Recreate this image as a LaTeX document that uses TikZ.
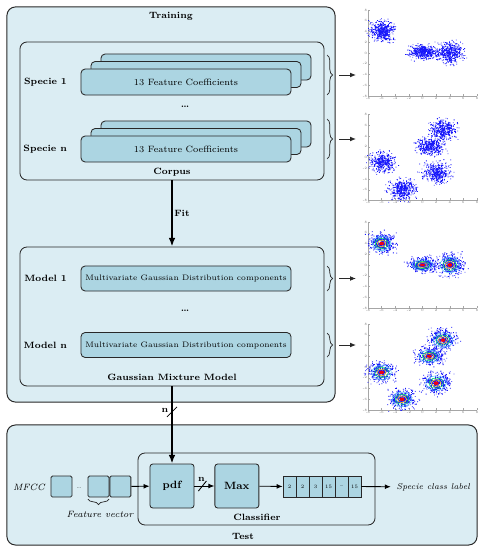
\documentclass[tikz,border=0pt]{standalone}
\usepackage{amsmath}
\usetikzlibrary{positioning, arrows.meta, decorations.pathreplacing, calc}

\definecolor{paneblue}{RGB}{219,237,243}
\definecolor{cellblue}{RGB}{172,213,226}
\definecolor{edgegray}{RGB}{40,40,40}
\definecolor{dotblue}{RGB}{25,25,250}

\newcommand{\basesize}{\fontsize{6.5}{7.5}\selectfont}
\newcommand{\ticksize}{\fontsize{2.4}{2.8}\selectfont}

% one gaussian cloud of scatter points: cx, cy, sx, sy, count
\newcommand{\dotcloud}[5]{%
  \fill[dotblue] \foreach \i in {1,...,#5}{
    ({#1+#3*(rand+rand+rand)},{#2+#4*(rand+rand+rand)}) rectangle +(0.6pt,0.6pt)
  };}
% level lines drawn over a fitted component
\newcommand{\levels}[4]{%
  \draw[cyan!70, line width=0.35pt] (#1,#2) ellipse ({1.5*#3} and {1.5*#4});
  \draw[green!70!cyan, line width=0.35pt] (#1,#2) ellipse ({1.05*#3} and {1.05*#4});
  \draw[yellow!90!orange, line width=0.4pt] (#1,#2) ellipse ({0.7*#3} and {0.7*#4});
  \fill[red!75!purple] (#1,#2) ellipse ({0.38*#3} and {0.38*#4});}
% axes of one scatter plot
\newcommand{\plotframe}{%
  \draw[gray!70, line width=0.3pt] (-8,8) -- (-8,-8) -- (8,-8);
  \foreach \t in {-8,-6,...,8}{
    \draw[gray!70, line width=0.3pt] (\t,-8) -- (\t,-7.6);
    \draw[gray!70, line width=0.3pt] (-8,\t) -- (-7.7,\t);
    \node[ticklabel, below] at (\t,-8) {\t};
    \node[ticklabel, left] at (-8,\t) {\t};
  }}

\begin{document}
\begin{tikzpicture}[
  x=0.025cm, y=-0.025cm,
  font=\basesize,
  stage/.style={rectangle, draw=edgegray, rounded corners=6pt, fill=paneblue, line width=0.7pt, inner sep=0pt},
  panel/.style={rectangle, draw=edgegray, rounded corners=5pt, fill=paneblue, line width=0.6pt, inner sep=0pt},
  feat/.style={rectangle, draw=edgegray, rounded corners=3pt, fill=cellblue, minimum width=5.25cm, minimum height=0.65cm, line width=0.6pt, font=\basesize},
  comp/.style={rectangle, draw=edgegray, rounded corners=3pt, fill=cellblue, minimum width=5.25cm, minimum height=0.625cm, line width=0.6pt, inner xsep=1pt, font=\fontsize{5.6}{6.5}\selectfont},
  heading/.style={font=\basesize\bfseries, inner sep=1pt},
  note/.style={font=\basesize\itshape, inner sep=1pt},
  block/.style={rectangle, draw=edgegray, rounded corners=2pt, fill=cellblue, minimum size=1.1cm, line width=0.6pt, font=\fontsize{7.5}{8.5}\selectfont\bfseries},
  sq/.style={rectangle, draw=edgegray, rounded corners=1pt, fill=cellblue, minimum size=0.525cm, line width=0.6pt, inner sep=0pt},
  cell/.style={rectangle, draw=edgegray, fill=cellblue, minimum width=0.325cm, minimum height=0.525cm, line width=0.5pt, inner sep=0pt, font=\fontsize{3.6}{4}\selectfont},
  ticklabel/.style={font=\ticksize, inner sep=0.6pt, text=gray!80!black},
  brace/.style={decorate, decoration={brace, amplitude=4pt}, line width=0.5pt, edgegray},
  arr/.style={-{Latex[length=1.5mm, width=1.2mm]}, line width=0.6pt},
  bigarr/.style={-{Latex[length=2.2mm, width=1.7mm]}, line width=1.3pt}
]
  \useasboundingbox (0,0) rectangle (484,550);
  \pgfmathsetseed{11}

  % training
  \node[stage, minimum width=8.2cm, minimum height=9.875cm] (training) at (171,204.5) {};
  \node[heading] (traininghead) at (171,16) {Training};

  \node[panel, minimum width=7.6cm, minimum height=3.45cm] (corpus) at (172,111) {};
  \node[heading] (corpushead) at (172,172) {Corpus};
  \foreach \s/\yy in {1/82,n/149}{
    \node[feat] (sp\s-c) at (206,\yy-15) {};
    \node[feat] (sp\s-b) at (196,\yy-7.5) {};
    \node[feat] (sp\s-a) at (186,\yy) {13 Feature Coefficients};
    \node[heading, left=0.3cm of sp\s-a] (sp\s-lab) {Specie \s};
  }
  \node[heading] (corpusdots) at (185,107) {\ldots};

  \node[panel, minimum width=7.6cm, minimum height=3.475cm] (gmm) at (172,316.5) {};
  \node[heading] (gmmhead) at (172,377) {Gaussian Mixture Model};
  \foreach \s/\yy in {1/278.5,n/345}{
    \node[comp] (model\s) at (186,\yy) {Multivariate Gaussian Distribution components};
    \node[heading, left=0.3cm of model\s] (model\s-lab) {Model \s};
  }
  \node[heading] (gmmdots) at (185,311) {\ldots};

  \draw[bigarr] (corpus) -- node[heading, right, pos=0.5] (fitlab) {Fit} (gmm);

  % braces towards the plots
  \foreach \k/\ya/\yb in {1/55/95, 2/119/159, 3/266/291, 4/333/357}{
    \draw[brace] (327,\ya) -- (327,\yb);
    \coordinate (tip\k) at (339,{(\ya+\yb)/2});
    \coordinate (plot\k-in) at (356,{(\ya+\yb)/2});
    \draw[arr, edgegray] (tip\k) -- (plot\k-in);
  }

  % test
  \node[stage, minimum width=11.75cm, minimum height=3cm] (test) at (242,485) {};
  \node[heading] (testhead) at (243,536) {Test};
  \node[panel, minimum width=5.925cm, minimum height=1.8cm] (classifier) at (256.5,489) {};
  \node[heading] (classifierhead) at (257,517) {Classifier};

  \node[block] (pdf) at (172,486) {pdf};
  \node[block, right=0.5cm of pdf] (max) {Max};

  \node[note] (mfcc) at (29,487) {MFCC};
  \node[sq] (fv1) at (61.5,486.5) {};
  \node[sq] (fv2) at (98.5,486.5) {};
  \node[sq, right=0pt of fv2] (fv3) {};
  \node[font=\fontsize{4}{5}\selectfont] (fvdots) at (79,488) {\ldots};
  \draw[brace] (109,499) -- (88,499);
  \node[note] (fvlab) at (100,514) {Feature vector};

  \foreach \v [count=\k] in {2,2,3,15,\ldots,15}
    \node[cell] (cell\k) at ({289.5+13*(\k-1)},486.5) {\v};
  \node[note, anchor=west, font=\fontsize{6}{7}\selectfont\itshape] (classlabel) at (395,487) {Specie class label};

  \draw[bigarr] (gmm) -- coordinate[pos=0.33] (nslash) (pdf);
  \draw[line width=0.6pt] ($(nslash)+(-5,5)$) -- ($(nslash)+(5,-5)$);
  \node[heading] (nlab1) at ($(nslash)+(-7,-1)$) {n};

  \draw[arr] (fv3) -- (pdf);
  \draw[arr] (pdf) -- coordinate[pos=0.4] (nmark) (max);
  \draw[line width=0.6pt] ($(nmark)+(-4,5)$) -- ($(nmark)+(4,-5)$);
  \node[heading] (nlab2) at ($(nmark)+(-1,-7)$) {n};
  \draw[arr] (max) -- (cell1);
  \draw[arr, shorten >=3pt] (cell6) -- (classlabel);

  % scatter plots
  \begin{scope}[shift={(422.5,53)}, x=0.1703cm, y=0.1344cm]
    \plotframe
    \dotcloud{-6}{4}{0.9}{0.9}{420}
    \dotcloud{0}{0}{1.0}{0.65}{420}
    \dotcloud{4}{0}{0.95}{0.95}{420}
  \end{scope}
  \begin{scope}[shift={(422.5,157.5)}, x=0.1703cm, y=0.1344cm]
    \plotframe
    \dotcloud{3}{5}{0.95}{0.9}{380}
    \dotcloud{1}{2}{1.0}{0.75}{380}
    \dotcloud{-6}{-1}{0.95}{0.9}{380}
    \dotcloud{-3}{-6}{0.95}{0.9}{380}
    \dotcloud{2}{-3}{1.0}{0.9}{380}
  \end{scope}
  \begin{scope}[shift={(422.5,265)}, x=0.1703cm, y=0.1344cm]
    \plotframe
    \dotcloud{-6}{4}{0.9}{0.9}{420}
    \dotcloud{0}{0}{1.0}{0.65}{420}
    \dotcloud{4}{0}{0.95}{0.95}{420}
    \levels{-6}{4}{0.9}{0.9}
    \levels{0}{0}{1.0}{0.65}
    \levels{4}{0}{0.95}{0.95}
  \end{scope}
  \begin{scope}[shift={(422.5,367)}, x=0.1703cm, y=0.1344cm]
    \plotframe
    \dotcloud{3}{5}{0.95}{0.9}{380}
    \dotcloud{1}{2}{1.0}{0.75}{380}
    \dotcloud{-6}{-1}{0.95}{0.9}{380}
    \dotcloud{-3}{-6}{0.95}{0.9}{380}
    \dotcloud{2}{-3}{1.0}{0.9}{380}
    \levels{3}{5}{0.95}{0.9}
    \levels{1}{2}{1.0}{0.75}
    \levels{-6}{-1}{0.95}{0.9}
    \levels{-3}{-6}{0.95}{0.9}
    \levels{2}{-3}{1.0}{0.9}
  \end{scope}
\end{tikzpicture}
\end{document}
